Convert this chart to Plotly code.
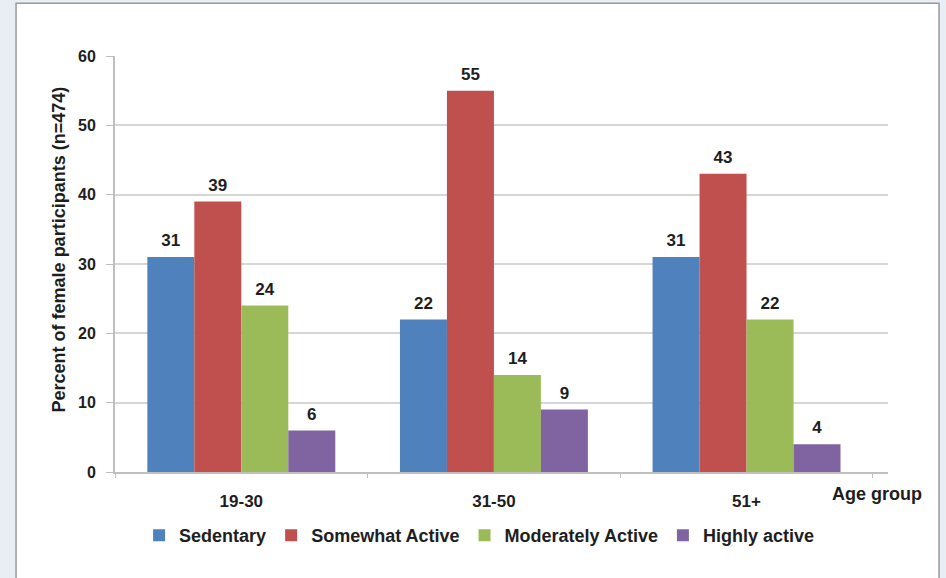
import plotly.graph_objects as go

# Age groups on the category axis
age_groups = ["19-30", "31-50", "51+"]

# Percent of female participants per activity level
sedentary = [31, 22, 31]
somewhat_active = [39, 55, 43]
moderately_active = [24, 14, 22]
highly_active = [6, 9, 4]

series_names = ["Sedentary", "Somewhat Active", "Moderately Active", "Highly active"]
series_values = [sedentary, somewhat_active, moderately_active, highly_active]
series_colors = ["#4F81BD", "#C0504D", "#9BBB59", "#8064A2"]

y_ticks = [0, 10, 20, 30, 40, 50, 60]

FONT = "Liberation Sans, Arial, sans-serif"
TEXT = "#1e1e1e"
GAP = 0.256

fig = go.Figure()
for i, (name, vals, color) in enumerate(zip(series_names, series_values, series_colors)):
    fig.add_trace(go.Bar(
        name=name,
        x=age_groups,
        y=vals,
        offsetgroup=str(i),
        marker=dict(color=color, line=dict(width=0)),
    ))
for i, vals in enumerate(series_values):
    # value labels, grouped alongside the bars and lifted a little above them
    fig.add_trace(go.Scatter(
        x=age_groups,
        y=vals,
        offsetgroup=str(i),
        mode="markers+text",
        marker=dict(size=9, opacity=0),
        text=[str(v) for v in vals],
        textposition="top center",
        textfont=dict(family=FONT, size=17, color=TEXT, weight="bold"),
        showlegend=False,
        hoverinfo="skip",
        cliponaxis=False,
    ))

fig.update_layout(
    width=946,
    height=578,
    margin=dict(l=115, r=58, t=56, b=106),
    paper_bgcolor="#e9eef4",
    plot_bgcolor="rgba(0,0,0,0)",
    barmode="group",
    bargap=GAP,
    bargroupgap=0,
    scattermode="group",
    scattergap=GAP,
    showlegend=True,
    legend=dict(
        orientation="h",
        x=0.471, xanchor="center",
        y=-0.153, yanchor="middle",
        font=dict(family=FONT, size=18, color=TEXT, weight="bold"),
        bgcolor="rgba(0,0,0,0)",
        itemwidth=30,
        traceorder="normal",
    ),
    xaxis=dict(
        type="category",
        range=[-0.5, 2.56],
        showgrid=False,
        showline=True,
        linecolor="#bfbfbf",
        linewidth=2,
        ticks="outside",
        tickson="boundaries",
        ticklen=4,
        tickcolor="#bfbfbf",
        tickfont=dict(family=FONT, size=17, color=TEXT, weight="bold"),
        ticklabelstandoff=13,
        zeroline=False,
    ),
    yaxis=dict(
        range=[0, 60],
        tickvals=y_ticks,
        showgrid=True,
        gridcolor="#d6d6d6",
        gridwidth=2,
        showline=True,
        linecolor="#bfbfbf",
        linewidth=2,
        ticks="outside",
        ticklen=7,
        tickcolor="#bfbfbf",
        tickfont=dict(family=FONT, size=16, color=TEXT, weight="bold"),
        ticklabelstandoff=7,
        zeroline=False,
    ),
    shapes=[
        # white chart panel with a thin gray frame
        dict(
            type="rect", xref="paper", yref="paper",
            x0=-0.128, x1=1.066, y0=-0.3, y1=1.127,
            fillcolor="white",
            line=dict(color="#9a9a9a", width=1.5),
            layer="below",
        ),
    ],
    annotations=[
        dict(
            text="Percent of female participants (n=474)",
            xref="paper", yref="paper",
            x=-0.073, y=0.534,
            xanchor="center", yanchor="middle",
            textangle=-90, showarrow=False,
            font=dict(family=FONT, size=18, color=TEXT, weight="bold"),
        ),
        dict(
            text="Age group",
            xref="paper", yref="paper",
            x=1.046, y=-0.053,
            xanchor="right", yanchor="middle",
            showarrow=False,
            font=dict(family=FONT, size=18, color=TEXT, weight="bold"),
        ),
    ],
)

fig.write_html("out.html")
